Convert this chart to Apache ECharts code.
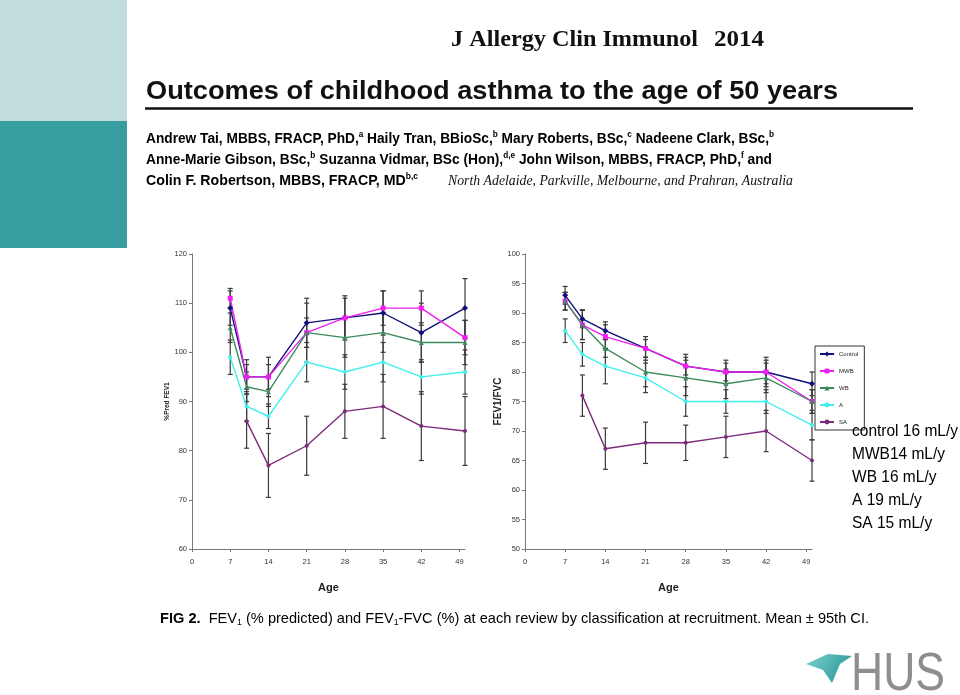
<!DOCTYPE html>
<html><head><meta charset="utf-8">
<script src="https://cdn.jsdelivr.net/npm/echarts@6/dist/echarts.min.js"></script>
<style>html,body{margin:0;padding:0;background:#fff}#c{width:960px;height:695px}</style>
</head><body><div id="c"></div>
<script>
// ---------------- data ----------------
const ages = [7, 10, 14, 21, 28, 35, 42, 50];
const xTicks = [0, 7, 14, 21, 28, 35, 42, 49];
const groups = ['Control', 'MWB', 'WB', 'A', 'SA'];

// FEV1 % predicted (mean)
const fevControl = [109, 95, 95, 106, 107, 108, 104, 109];
const fevMWB     = [111, 95, 95, 104, 107, 109, 109, 103];
const fevWB      = [105, 93, 92, 104, 103, 104, 102, 102];
const fevA       = [99, 89, 87, 98, 96, 98, 95, 96];
const fevSA      = [null, 86, 77, 81, 88, 89, 85, 84];
// FEV1 % predicted, 95% CI half-width
const fevControlCI = [3.5, 3.5, 4, 5, 4.5, 4.5, 6, 6];
const fevMWBCI     = [2, 2.5, 2.5, 3, 4, 3.5, 3.5, 3.5];
const fevWBCI      = [3, 3, 3, 6, 4, 4, 4, 4.5];
const fevACI       = [3.5, 3, 2.5, 4, 3.5, 4, 3.5, 4.5];
const fevSACI      = [null, 5.5, 6.5, 6, 5.5, 6.5, 7, 7];

// FEV1/FVC (mean)
const ratioControl = [93, 89, 87, 84, 81, 80, 80, 78];
const ratioMWB     = [92, 88, 86, 84, 81, 80, 80, 75];
const ratioWB      = [92, 88, 84, 80, 79, 78, 79, 75];
const ratioA       = [87, 83, 81, 79, 75, 75, 75, 71];
const ratioSA      = [null, 76, 67, 68, 68, 69, 70, 65];
// FEV1/FVC, 95% CI half-width
const ratioControlCI = [1.5, 1.5, 1.5, 2, 2, 2, 2.5, 2];
const ratioMWBCI     = [1.5, 2.5, 2, 1.5, 1.5, 1.5, 2, 2];
const ratioWBCI      = [1.5, 2.5, 1.5, 2.5, 3, 2.5, 2.5, 2];
const ratioACI       = [2, 2, 3, 2.5, 2.5, 2, 2, 2.5];
const ratioSACI      = [null, 3.5, 3.5, 3.5, 3, 3.5, 3.5, 3.5];

const slopeLabels = ['control 16 mL/y', 'MWB14 mL/y', 'WB 16 mL/y', 'A 19 mL/y', 'SA 15 mL/y'];

const journalText = 'J Allergy Clin Immunol';
const yearText = '2014';
const titleText = 'Outcomes of childhood asthma to the age of 50 years';
const authorLine1 = [['Andrew Tai, MBBS, FRACP, PhD,', 'm'], ['a', 's'], [' Haily Tran, BBioSc,', 'm'], ['b', 's'], [' Mary Roberts, BSc,', 'm'], ['c', 's'], [' Nadeene Clark, BSc,', 'm'], ['b', 's']];
const authorLine2 = [['Anne-Marie Gibson, BSc,', 'm'], ['b', 's'], [' Suzanna Vidmar, BSc (Hon),', 'm'], ['d,e', 's'], [' John Wilson, MBBS, FRACP, PhD,', 'm'], ['f', 's'], [' and', 'm']];
const authorLine3 = [['Colin F. Robertson, MBBS, FRACP, MD', 'm'], ['b,c', 's']];
const placeText = 'North Adelaide, Parkville, Melbourne, and Prahran, Australia';
const captionSegs = [['FIG 2.', 'b'], ['  FEV', 'm'], ['1', 'sub'], [' (% predicted) and FEV', 'm'], ['1', 'sub'], ['-FVC (%) at each review by classification at recruitment. Mean ± 95th CI.', 'm']];
const logoText = 'HUS';

// ---------------- helpers ----------------
const SANS = '"Liberation Sans", Arial, sans-serif';
const SERIF = '"Liberation Serif", "Times New Roman", serif';
const mctx = document.createElement('canvas').getContext('2d');
function tw(text, font) { mctx.font = font; return mctx.measureText(text).width; }
function fontStr(st) { return (st.fontStyle || 'normal') + ' ' + (st.fontWeight || 'normal') + ' ' + st.fontSize + 'px ' + st.fontFamily; }
function richText(segs, rich, x, y, targetW) {
  let total = 0;
  segs.forEach(([t, s]) => { total += tw(t, fontStr(rich[s])); });
  return {
    type: 'text', x: x, y: y, scaleX: targetW / total, z: 50,
    style: { text: segs.map(([t, s]) => '{' + s + '|' + t + '}').join(''), rich: rich, verticalAlign: 'middle', align: 'left' }
  };
}
function plainText(text, st, x, y, targetW) {
  return {
    type: 'text', x: x, y: y, scaleX: targetW / tw(text, fontStr(st)), z: 50,
    style: Object.assign({ text: text, verticalAlign: 'middle', align: 'left', fill: '#111' }, st)
  };
}

const colors = { Control: '#10107a', MWB: '#f01ff0', WB: '#3d8a5c', A: '#3ff0ec', SA: '#7d2a7d' };
const symbols = { Control: 'diamond', MWB: 'rect', WB: 'triangle', A: 'circle', SA: 'circle' };
const symSizes = { Control: 6, MWB: 5, WB: 5, A: 4, SA: 4 };
const fevData = [fevControl, fevMWB, fevWB, fevA, fevSA];
const fevCI = [fevControlCI, fevMWBCI, fevWBCI, fevACI, fevSACI];
const ratioData = [ratioControl, ratioMWB, ratioWB, ratioA, ratioSA];
const ratioCI = [ratioControlCI, ratioMWBCI, ratioWBCI, ratioACI, ratioSACI];

function errSeries(idx, vals, ci) {
  const data = [];
  vals.forEach((v, i) => { if (v != null && ci[i] != null) data.push([ages[i], v - ci[i], v + ci[i]]); });
  return {
    type: 'custom', xAxisIndex: idx, yAxisIndex: idx, z: 1, silent: true,
    encode: { x: 0, y: [1, 2] }, data: data,
    renderItem: function (params, api) {
      const x = api.value(0), lo = api.value(1), hi = api.value(2);
      const p1 = api.coord([x, hi]), p2 = api.coord([x, lo]);
      const w = 2.5, st = { stroke: '#3a3a3a', lineWidth: 1.2 };
      return { type: 'group', children: [
        { type: 'line', shape: { x1: p1[0], y1: p1[1], x2: p2[0], y2: p2[1] }, style: st },
        { type: 'line', shape: { x1: p1[0] - w, y1: p1[1], x2: p1[0] + w, y2: p1[1] }, style: st },
        { type: 'line', shape: { x1: p2[0] - w, y1: p2[1], x2: p2[0] + w, y2: p2[1] }, style: st }
      ] };
    }
  };
}
function lineSeries(idx, g, vals) {
  const data = [];
  vals.forEach((v, i) => { if (v != null) data.push([ages[i], v]); });
  return {
    type: 'line', name: g, xAxisIndex: idx, yAxisIndex: idx, z: 3, data: data,
    symbol: symbols[g], symbolSize: symSizes[g], showSymbol: true,
    lineStyle: { color: colors[g], width: 1.4 }, itemStyle: { color: colors[g] }
  };
}

const series = [];
[0, 1].forEach(idx => {
  const vals = idx === 0 ? fevData : ratioData;
  const cis = idx === 0 ? fevCI : ratioCI;
  groups.forEach((g, k) => series.push(errSeries(idx, vals[k], cis[k])));
});
[0, 1].forEach(idx => {
  const vals = idx === 0 ? fevData : ratioData;
  groups.forEach((g, k) => series.push(lineSeries(idx, g, vals[k])));
});

const axisLabelStyle = { fontSize: 7.5, color: '#333', fontFamily: SANS };
function xAxis(idx) {
  return {
    type: 'value', gridIndex: idx, min: 0, max: 50,
    axisLine: { show: true, lineStyle: { color: '#777', width: 1 } },
    axisTick: { show: true, length: 3, lineStyle: { color: '#777' }, customValues: xTicks },
    axisLabel: Object.assign({ margin: 9, customValues: xTicks }, axisLabelStyle),
    splitLine: { show: false },
    name: 'Age', nameLocation: 'middle', nameGap: 33,
    nameTextStyle: { fontSize: 11, fontWeight: 'bold', color: '#222', fontFamily: SANS }
  };
}

const rich1 = {
  m: { fontSize: 15, fontWeight: 'bold', fontFamily: SANS, lineHeight: 17, color: '#111' },
  s: { fontSize: 9, fontWeight: 'bold', fontFamily: SANS, lineHeight: 9, verticalAlign: 'top', color: '#111' }
};
const richCap = {
  b: { fontSize: 15, fontWeight: 'bold', fontFamily: SANS, lineHeight: 17, color: '#111' },
  m: { fontSize: 15, fontFamily: SANS, lineHeight: 17, color: '#111' },
  sub: { fontSize: 9, fontFamily: SANS, lineHeight: 9, verticalAlign: 'bottom', color: '#111' }
};

const slopeStyle = { fontSize: 17, fontFamily: SANS };
const slopeScale = 106 / tw(slopeLabels[0], fontStr(slopeStyle));

const graphics = [
  { type: 'rect', shape: { x: 0, y: 0, width: 127, height: 121 }, style: { fill: '#c1dcdc' }, z: 0 },
  { type: 'rect', shape: { x: 0, y: 121, width: 127, height: 127 }, style: { fill: '#379d9f' }, z: 0 },
  plainText(journalText, { fontSize: 24, fontWeight: 'bold', fontFamily: SERIF }, 451, 40, 247),
  plainText(yearText, { fontSize: 24, fontWeight: 'bold', fontFamily: SERIF }, 714, 40, 50),
  plainText(titleText, { fontSize: 25, fontWeight: 'bold', fontFamily: SANS }, 146, 92, 692),
  { type: 'line', shape: { x1: 145, y1: 108.5, x2: 913, y2: 108.5 }, style: { stroke: '#111', lineWidth: 2.5 }, z: 50 },
  richText(authorLine1, rich1, 146, 139, 628),
  richText(authorLine2, rich1, 146, 160, 626),
  richText(authorLine3, rich1, 146, 181, 272),
  plainText(placeText, { fontSize: 14, fontStyle: 'italic', fontFamily: SERIF }, 448, 181, 345),
  richText(captionSegs, richCap, 160, 619, 709),
  { type: 'polygon', z: 50, shape: { points: [[806, 664], [828, 654], [852, 656], [840, 664], [832, 683], [823, 670]] },
    style: { fill: { type: 'linear', x: 0, y: 0, x2: 1, y2: 1, colorStops: [{ offset: 0, color: '#7fd2d2' }, { offset: 1, color: '#1f8f90' }] } } },
  plainText(logoText, { fontSize: 54, fontFamily: SANS, fill: '#8e8e8e' }, 851, 675, 94)
];
slopeLabels.forEach((t, i) => {
  graphics.push({ type: 'text', x: 852, y: 431 + i * 23.2, z: 100, scaleX: slopeScale,
    style: Object.assign({ text: t, fill: '#000', verticalAlign: 'middle', align: 'left' }, slopeStyle) });
});

const option = {
  animation: false,
  backgroundColor: '#fff',
  grid: [
    { left: 192, top: 254, width: 273, height: 295 },
    { left: 525, top: 254, width: 287, height: 295 }
  ],
  xAxis: [xAxis(0), xAxis(1)],
  yAxis: [
    { type: 'value', gridIndex: 0, min: 60, max: 120, interval: 10,
      axisLine: { show: true, lineStyle: { color: '#777' } },
      axisTick: { show: true, length: 3, lineStyle: { color: '#777' } },
      axisLabel: Object.assign({ margin: 5 }, axisLabelStyle), splitLine: { show: false },
      name: '%Pred FEV1', nameLocation: 'middle', nameRotate: 90, nameGap: 17,
      nameTextStyle: { fontSize: 6.5, fontWeight: 'bold', color: '#222', fontFamily: SANS } },
    { type: 'value', gridIndex: 1, min: 50, max: 100, interval: 5,
      axisLine: { show: true, lineStyle: { color: '#777' } },
      axisTick: { show: true, length: 3, lineStyle: { color: '#777' } },
      axisLabel: Object.assign({ margin: 5 }, axisLabelStyle), splitLine: { show: false },
      name: 'FEV1/FVC', nameLocation: 'middle', nameRotate: 90, nameGap: 21,
      nameTextStyle: { fontSize: 10, fontWeight: 'bold', color: '#222', fontFamily: SANS } }
  ],
  legend: {
    data: groups, orient: 'vertical', left: 815, top: 346,
    backgroundColor: '#fff', borderColor: '#333', borderWidth: 1, borderRadius: 0,
    padding: [5, 6, 5, 4], itemWidth: 14, itemHeight: 6, itemGap: 11,
    textStyle: { fontSize: 6, color: '#222', fontFamily: SANS }
  },
  graphic: graphics,
  series: series
};

const chart = echarts.init(document.getElementById('c'), null, { renderer: 'canvas' });
chart.setOption(option);
</script>
</body></html>
